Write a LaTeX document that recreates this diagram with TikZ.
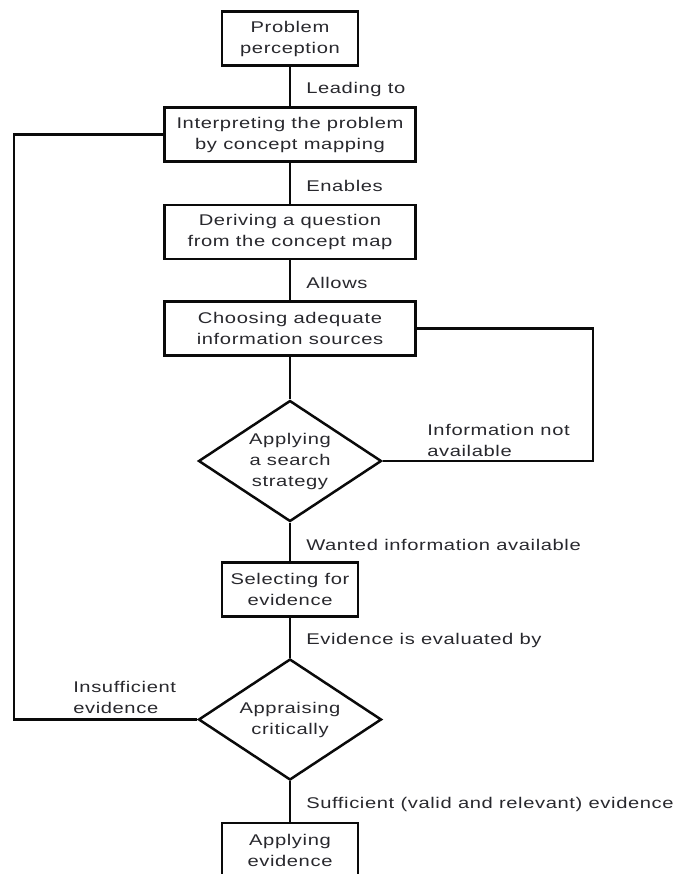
\documentclass[tikz,border=0pt]{standalone}
\usepackage{fontspec}
\setmainfont[FakeStretch=1.3,LetterSpace=4]{Liberation Sans}
\usetikzlibrary{shapes.geometric}
\definecolor{flowink}{RGB}{10,10,10}
\definecolor{flowtext}{RGB}{40,40,45}

\begin{document}
\begin{tikzpicture}[x=1pt,y=-1pt,line width=2.5pt,
    every node/.style={font=\fontsize{15.5}{21}\selectfont,text=flowtext},
    flowbox/.style={draw=flowink,align=center,inner sep=0pt,minimum height=54pt},
    flowdiam/.style={draw=flowink,diamond,aspect=1.5,align=center,inner sep=0pt,minimum width=183pt,minimum height=121pt},
    flowlbl/.style={anchor=west,align=left,inner sep=0pt,xshift=15pt,yshift=-3pt}]
    \useasboundingbox (0,0) rectangle (674,874);
    % main chain
    \node[flowbox,minimum width=136pt] (prob) at (290,38.5) {Problem\\perception};
    \node[flowbox,minimum width=251pt] (interp) at (290,134.5) {Interpreting the problem\\by concept mapping};
    \node[flowbox,minimum width=251pt] (derive) at (290,232) {Deriving a question\\from the concept map};
    \node[flowbox,minimum width=251pt] (choose) at (290,328.5) {Choosing adequate\\information sources};
    \node[flowdiam] (search) at (290,461) {Applying\\a search\\strategy};
    \node[flowbox,minimum width=136pt] (select) at (290,589.5) {Selecting for\\evidence};
    \node[flowdiam] (appraise) at (290,719.5) {Appraising\\critically};
    \node[flowbox,minimum width=136pt] (apply) at (290,850) {Applying\\evidence};
    \draw[flowink] (prob) -- node[flowlbl] {Leading to} (interp);
    \draw[flowink] (interp) -- node[flowlbl] {Enables} (derive);
    \draw[flowink] (derive) -- node[flowlbl] {Allows} (choose);
    \draw[flowink] (choose) -- (search);
    \draw[flowink] (search) -- node[flowlbl] {Wanted information available} (select);
    \draw[flowink] (select) -- node[flowlbl] {Evidence is evaluated by} (appraise);
    \draw[flowink] (appraise) -- node[flowlbl] {Sufficient (valid and relevant) evidence} (apply);
    % loops back
    \coordinate (loopX) at (593,0);
    \coordinate (backX) at (14,0);
    \draw[flowink] (search.east) -| (loopX |- choose.east) -- (choose.east);
    \draw[flowink] (appraise.west) -| (backX |- interp.west) -- (interp.west);
    \node[anchor=west,align=left,inner sep=0pt] (infotxt) at (426,440) {Information not\\available};
    \node[anchor=west,align=left,inner sep=0pt] (insuftxt) at (72,697) {Insufficient\\evidence};
\end{tikzpicture}
\end{document}
